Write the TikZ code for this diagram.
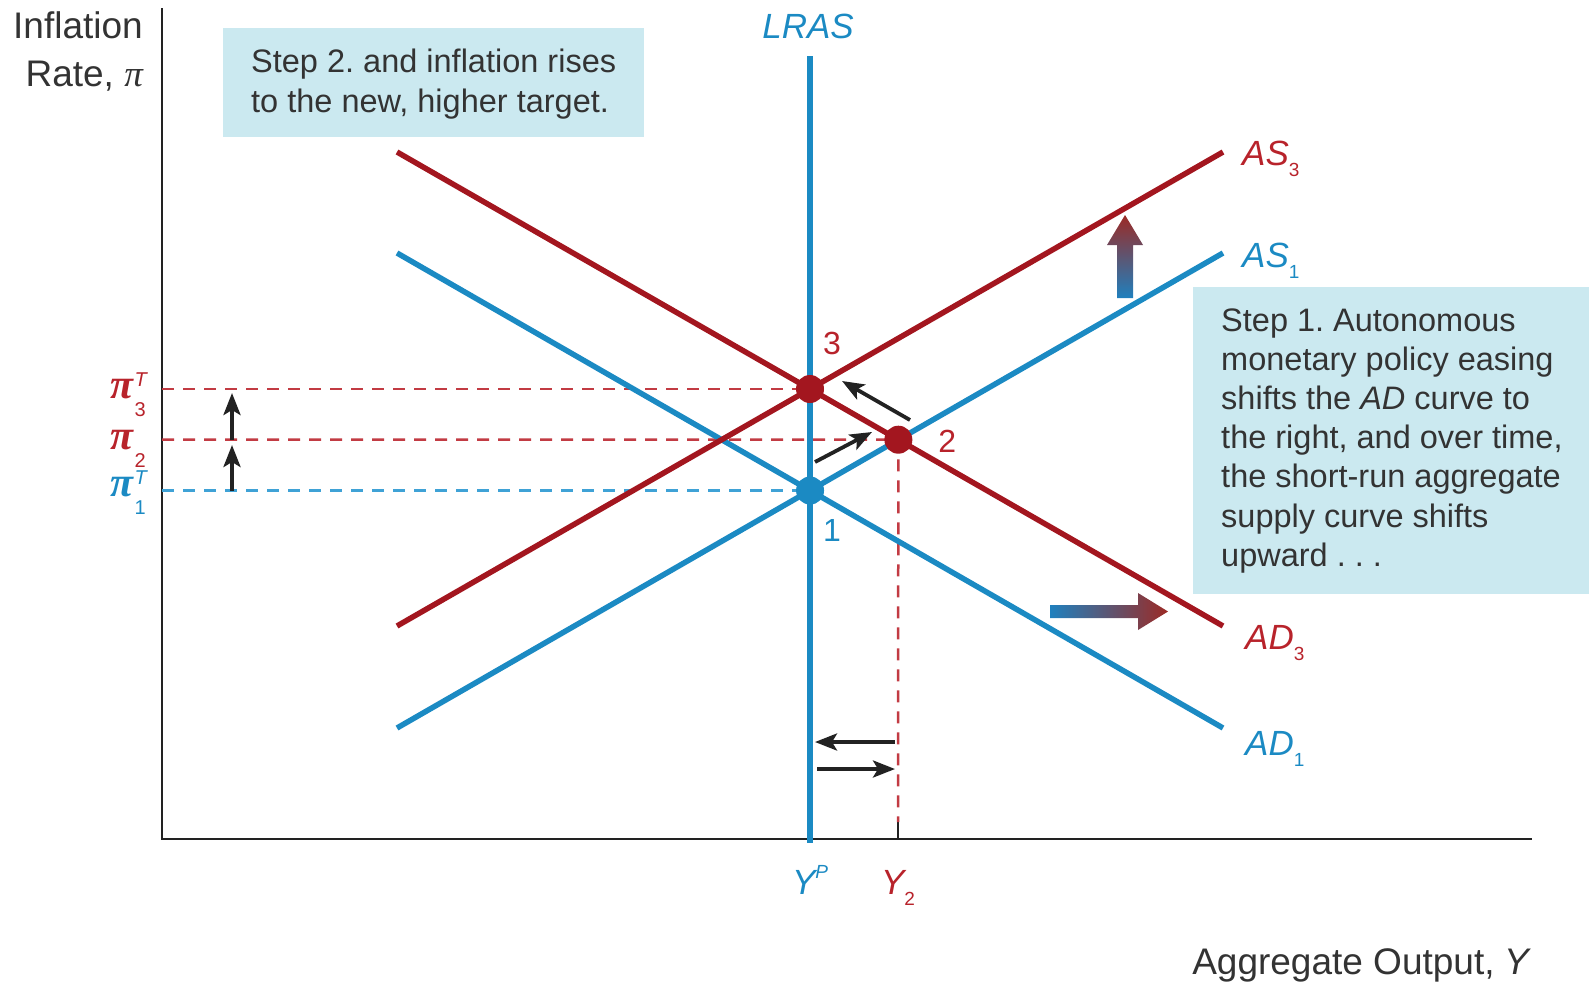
\documentclass[tikz,border=0pt]{standalone}
\usepackage{fontspec}
\setmainfont{Liberation Sans}
\newfontfamily\greekface{Liberation Serif}
\usepackage{xcolor}
\usetikzlibrary{arrows.meta,positioning}
\definecolor{curveblue}{HTML}{1B8AC3}
\definecolor{curvered}{HTML}{A3161F}
\definecolor{labelred}{HTML}{B8232B}
\definecolor{guidered}{HTML}{C23B43}
\definecolor{guideblue}{HTML}{3FA2D6}
\definecolor{notefill}{HTML}{CBE9F0}
\definecolor{notetext}{HTML}{333333}
\definecolor{axisgray}{HTML}{222222}
\definecolor{movegray}{HTML}{222222}
\definecolor{shiftblue}{HTML}{1F80BE}
\definecolor{shiftred}{HTML}{9C2A25}
\frenchspacing
\newcommand{\lowidx}[1]{\raisebox{-11pt}[0pt][0pt]{\fontsize{19}{19}\selectfont\upshape #1}}
\newcommand{\pisym}{{\greekface\bfseries\itshape π}}
\newcommand{\pitarget}[2]{\pisym\kern1pt\rlap{\raisebox{12pt}[0pt][0pt]{\fontsize{20}{20}\selectfont\itshape #1}}\raisebox{-18pt}[0pt][0pt]{\fontsize{20}{20}\selectfont #2}}
\tikzset{
    adline/.style={line width=5.5pt},
    guide/.style={line width=2.5pt, dash pattern=on 12pt off 9pt},
    eqdot/.style={circle, inner sep=0pt, minimum size=28pt},
    movearrow/.style={-{Stealth[length=22pt,width=17pt,inset=5pt]}, line width=3.8pt, draw=movegray},
    curvetag/.style={font=\fontsize{35}{35}\selectfont\itshape, inner sep=0pt, anchor=west},
    pointtag/.style={font=\fontsize{32}{32}\selectfont, inner sep=0pt},
    pitag/.style={font=\fontsize{42}{42}\selectfont, inner sep=0pt, anchor=east},
    axistag/.style={font=\fontsize{37}{48}\selectfont, inner sep=0pt, text=notetext},
    notebox/.style={fill=notefill, text=notetext, font=\fontsize{32.5}{39.2}\selectfont,
        align=left, inner xsep=28pt, inner ysep=0pt, anchor=north west},
}
\begin{document}
\begin{tikzpicture}[x=1pt, y=-1pt]
\useasboundingbox (0,0) rectangle (1589,983);
\coordinate (orig) at (162,839);
\coordinate (ytop) at (162,8);
\coordinate (xend) at (1532,839);
\coordinate (lrtop) at (810,56);
\coordinate (lrbot) at (810,843);
\coordinate (ad1s) at (397,253); \coordinate (ad1e) at (1223,728);
\coordinate (as1s) at (397,728); \coordinate (as1e) at (1223,253);
\coordinate (ad3s) at (397,152); \coordinate (ad3e) at (1223,626);
\coordinate (as3s) at (397,626); \coordinate (as3e) at (1223,152);
\coordinate (e1) at (intersection of ad1s--ad1e and as1s--as1e);
\coordinate (e2) at (intersection of ad3s--ad3e and as1s--as1e);
\coordinate (e3) at (intersection of ad3s--ad3e and as3s--as3e);
\coordinate (y2tick) at (898,822);

\node[notebox, minimum height=109pt, text depth=4pt] (step2) at (223,28) {Step 2. and inflation rises\\to the new, higher target.};
\node[notebox, minimum height=307pt] (step1) at (1193,287) {Step 1. Autonomous\\monetary policy easing\\shifts the \textit{AD} curve to\\the right, and over time,\\the short-run aggregate\\supply curve shifts\\upward . . .};

\draw[line width=2.5pt, axisgray] (ytop) -- (orig) -- (xend);
\draw[line width=2.5pt, axisgray] (y2tick) -- (y2tick |- orig);
\draw[guide, guidered] (e3 -| orig) -- (e3);
\draw[guide, guidered] (e2 -| orig) -- (e2) -- (y2tick);
\draw[guide, guideblue] (e1 -| orig) -- (e1);

\draw[adline, curveblue] (ad1s) -- (ad1e);
\draw[adline, curveblue] (as1s) -- (as1e);
\draw[adline, curvered] (ad3s) -- (ad3e);
\draw[adline, curvered] (as3s) -- (as3e);
\draw[adline, curveblue] (lrtop) -- (lrbot);

\node[eqdot, fill=curveblue] (p1) at (e1) {};
\node[eqdot, fill=curvered] (p2) at (e2) {};
\node[eqdot, fill=curvered] (p3) at (e3) {};
\node[pointtag, text=curveblue] (n1) at ([shift={(22,40)}]e1) {1};
\node[pointtag, text=labelred] (n2) at ([shift={(49,2)}]e2) {2};
\node[pointtag, text=labelred] (n3) at ([shift={(22,-46)}]e3) {3};

\node[curvetag, text=labelred] (as3tag) at ([shift={(19,1)}]as3e) {AS\lowidx{3}};
\node[curvetag, text=curveblue] (as1tag) at ([shift={(19,2)}]as1e) {AS\lowidx{1}};
\node[curvetag, text=labelred] (ad3tag) at ([shift={(22,11)}]ad3e) {AD\lowidx{3}};
\node[curvetag, text=curveblue] (ad1tag) at ([shift={(22,15)}]ad1e) {AD\lowidx{1}};
\node[curvetag, anchor=center, text=curveblue] (lras) at (808,26) {LRAS};
\node[curvetag, anchor=base, text=curveblue] (yp) at (810,894) {Y\raisebox{16pt}{\fontsize{19}{19}\selectfont P}};
\node[curvetag, anchor=base, text=labelred] (y2) at (898,894) {Y\lowidx{2}};

\node[pitag, text=labelred] (pi3) at ([shift={(-16,0)}]e3 -| orig) {\pitarget{T}{3}};
\node[pitag, text=labelred] (pi2) at ([shift={(-16,0)}]e2 -| orig) {\pitarget{}{2}};
\node[pitag, text=curveblue] (pi1) at ([shift={(-16,-3)}]e1 -| orig) {\pitarget{T}{1}};

\coordinate (m12a) at (815,462); \coordinate (m12b) at (872,432);
\coordinate (m23a) at (910,420); \coordinate (m23b) at (842,381);
\coordinate (u1a) at (232,491); \coordinate (u1b) at (232,445);
\coordinate (u2a) at (232,440); \coordinate (u2b) at (232,393);
\coordinate (l1a) at (895,742); \coordinate (l1b) at (815,742);
\coordinate (r1a) at (817,769); \coordinate (r1b) at (895,769);
\draw[movearrow] (m12a) -- (m12b);
\draw[movearrow] (m23a) -- (m23b);
\draw[movearrow] (u1a) -- (u1b);
\draw[movearrow] (u2a) -- (u2b);
\draw[movearrow] (l1a) -- (l1b);
\draw[movearrow] (r1a) -- (r1b);

\shade[bottom color=shiftblue, top color=shiftred] (1117,298) -- (1117,245) -- (1107,245) -- (1125,215) -- (1143,245) -- (1133,245) -- (1133,298) -- cycle;
\shade[left color=shiftblue, right color=shiftred] (1050,605) -- (1138,605) -- (1138,593) -- (1168,611.5) -- (1138,630) -- (1138,618) -- (1050,618) -- cycle;

\node[axistag, align=right, anchor=north east] (ylab) at (143,11) {Inflation\\Rate, {\greekface\itshape π}};
\node[axistag, anchor=base east] (xlab) at (1532,974) {Aggregate Output, \textit{Y}};
\end{tikzpicture}
\end{document}
